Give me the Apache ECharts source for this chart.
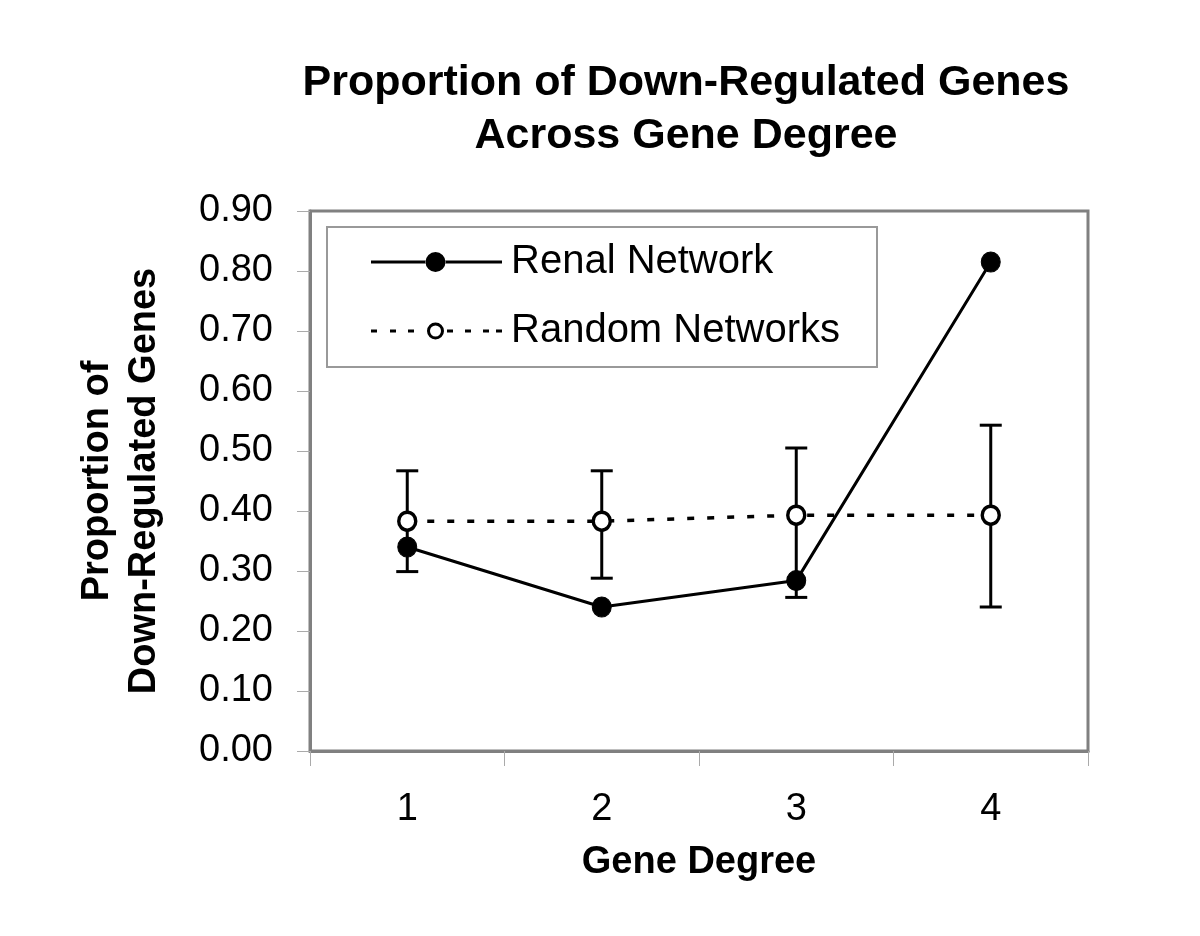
<!DOCTYPE html>
<html>
<head>
<meta charset="utf-8">
<script src="https://cdn.jsdelivr.net/npm/echarts@6/dist/echarts.min.js"></script>
<style>
  html, body { margin: 0; padding: 0; background: #fff; }
  #chart { width: 1200px; height: 936px; }
</style>
</head>
<body>
<div id="chart"></div>
<script>
// gene degree categories
var degrees = ['1', '2', '3', '4'];
// renal network proportion
var renal = [0.340, 0.240, 0.284, 0.815];
// random networks mean and error bar ends
var random = [0.383, 0.383, 0.393, 0.393];
var randomLow = [0.299, 0.288, 0.256, 0.240];
var randomHigh = [0.467, 0.467, 0.505, 0.543];
var yTicks = [0, 0.1, 0.2, 0.3, 0.4, 0.5, 0.6, 0.7, 0.8, 0.9];

var font = 'Arial, "Liberation Sans", sans-serif';

// legend icons, drawn as paths (line + marker) like the Excel legend
var renalIcon = 'path://M0 10.5H55V13.5H0Z M74 10.5H131V13.5H74Z ' +
  'M54.5 12a10 10 0 1 0 20 0a10 10 0 1 0 -20 0Z';
var randomIcon = 'path://M0 10.5h6v3h-6Z M19 10.5h6v3h-6Z M37 10.5h6v3h-6Z ' +
  'M76 10.5h6v3h-6Z M94 10.5h6v3h-6Z M112 10.5h6v3h-6Z M125 10.5h6v3h-6Z ' +
  'M56 12a8.5 8.5 0 1 0 17 0a8.5 8.5 0 1 0 -17 0Z M59 12a5.5 5.5 0 1 1 11 0a5.5 5.5 0 1 1 -11 0Z';

var chart = echarts.init(document.getElementById('chart'));

var option = {
  backgroundColor: '#fff',
  animation: false,
  title: {
    text: 'Proportion of Down-Regulated Genes\nAcross Gene Degree',
    left: 681,
    top: 52,
    textAlign: 'center',
    textStyle: {
      fontFamily: font,
      fontSize: 43,
      fontWeight: 'bold',
      color: '#000',
      lineHeight: 53
    }
  },
  legend: {
    data: [
      { name: 'Renal Network', icon: renalIcon },
      { name: 'Random Networks', icon: randomIcon }
    ],
    orient: 'vertical',
    left: 327,
    top: 227,
    padding: [15, 37, 16, 44],
    itemGap: 29,
    itemWidth: 131,
    itemHeight: 24,
    itemStyle: { color: '#000', borderWidth: 0 },
    backgroundColor: '#fff',
    borderColor: '#999',
    borderWidth: 2,
    textStyle: { fontFamily: font, fontSize: 40, color: '#000', padding: [0, 0, 0, 4] }
  },
  grid: {
    left: 310,
    right: 112,
    top: 211,
    bottom: 185,
    show: true,
    borderColor: '#808080',
    borderWidth: 3
  },
  xAxis: {
    type: 'category',
    data: degrees,
    boundaryGap: true,
    name: 'Gene Degree',
    nameLocation: 'middle',
    nameGap: 93,
    nameTextStyle: { fontFamily: font, fontSize: 38, fontWeight: 'bold', color: '#000' },
    axisLine: { lineStyle: { color: '#808080', width: 3 } },
    axisTick: { show: true, length: 15, lineStyle: { color: '#aaa', width: 1 } },
    axisLabel: { margin: 40, fontFamily: font, fontSize: 38, color: '#000' },
    splitLine: { show: false }
  },
  yAxis: {
    type: 'value',
    min: yTicks[0],
    max: yTicks[yTicks.length - 1],
    interval: 0.1,
    name: 'Proportion of\nDown-Regulated Genes',
    nameLocation: 'middle',
    nameRotate: 90,
    nameGap: 142,
    nameTextStyle: { fontFamily: font, fontSize: 38, fontWeight: 'bold', color: '#000', lineHeight: 47 },
    axisLine: { show: true, lineStyle: { color: '#808080', width: 3 } },
    axisTick: { show: true, length: 13, lineStyle: { color: '#aaa', width: 1 } },
    axisLabel: {
      margin: 37,
      fontFamily: font,
      fontSize: 38,
      color: '#000',
      formatter: function (v) { return v.toFixed(2); }
    },
    splitLine: { show: false }
  },
  series: [
    {
      name: 'Error',
      type: 'custom',
      z: 1,
      data: degrees.map(function (d, i) { return [i, randomLow[i], randomHigh[i]]; }),
      renderItem: function (params, api) {
        var lo = api.coord([api.value(0), api.value(1)]);
        var hi = api.coord([api.value(0), api.value(2)]);
        var w = 11;
        var style = { stroke: '#000', lineWidth: 3 };
        return {
          type: 'group',
          children: [
            { type: 'line', shape: { x1: lo[0], y1: lo[1], x2: hi[0], y2: hi[1] }, style: style },
            { type: 'line', shape: { x1: hi[0] - w, y1: hi[1], x2: hi[0] + w, y2: hi[1] }, style: style },
            { type: 'line', shape: { x1: lo[0] - w, y1: lo[1], x2: lo[0] + w, y2: lo[1] }, style: style }
          ]
        };
      }
    },
    {
      name: 'Random Networks',
      type: 'line',
      z: 3,
      data: random,
      symbol: 'circle',
      symbolSize: [17, 18],
      lineStyle: { color: '#000', width: 3.5, type: [7, 13] },
      itemStyle: { color: '#fff', borderColor: '#000', borderWidth: 3.5 }
    },
    {
      name: 'Renal Network',
      type: 'line',
      z: 4,
      data: renal,
      symbol: 'circle',
      symbolSize: [19, 20],
      lineStyle: { color: '#000', width: 3 },
      itemStyle: { color: '#000', borderColor: '#000', borderWidth: 1 }
    }
  ]
};

chart.setOption(option);
</script>
</body>
</html>
